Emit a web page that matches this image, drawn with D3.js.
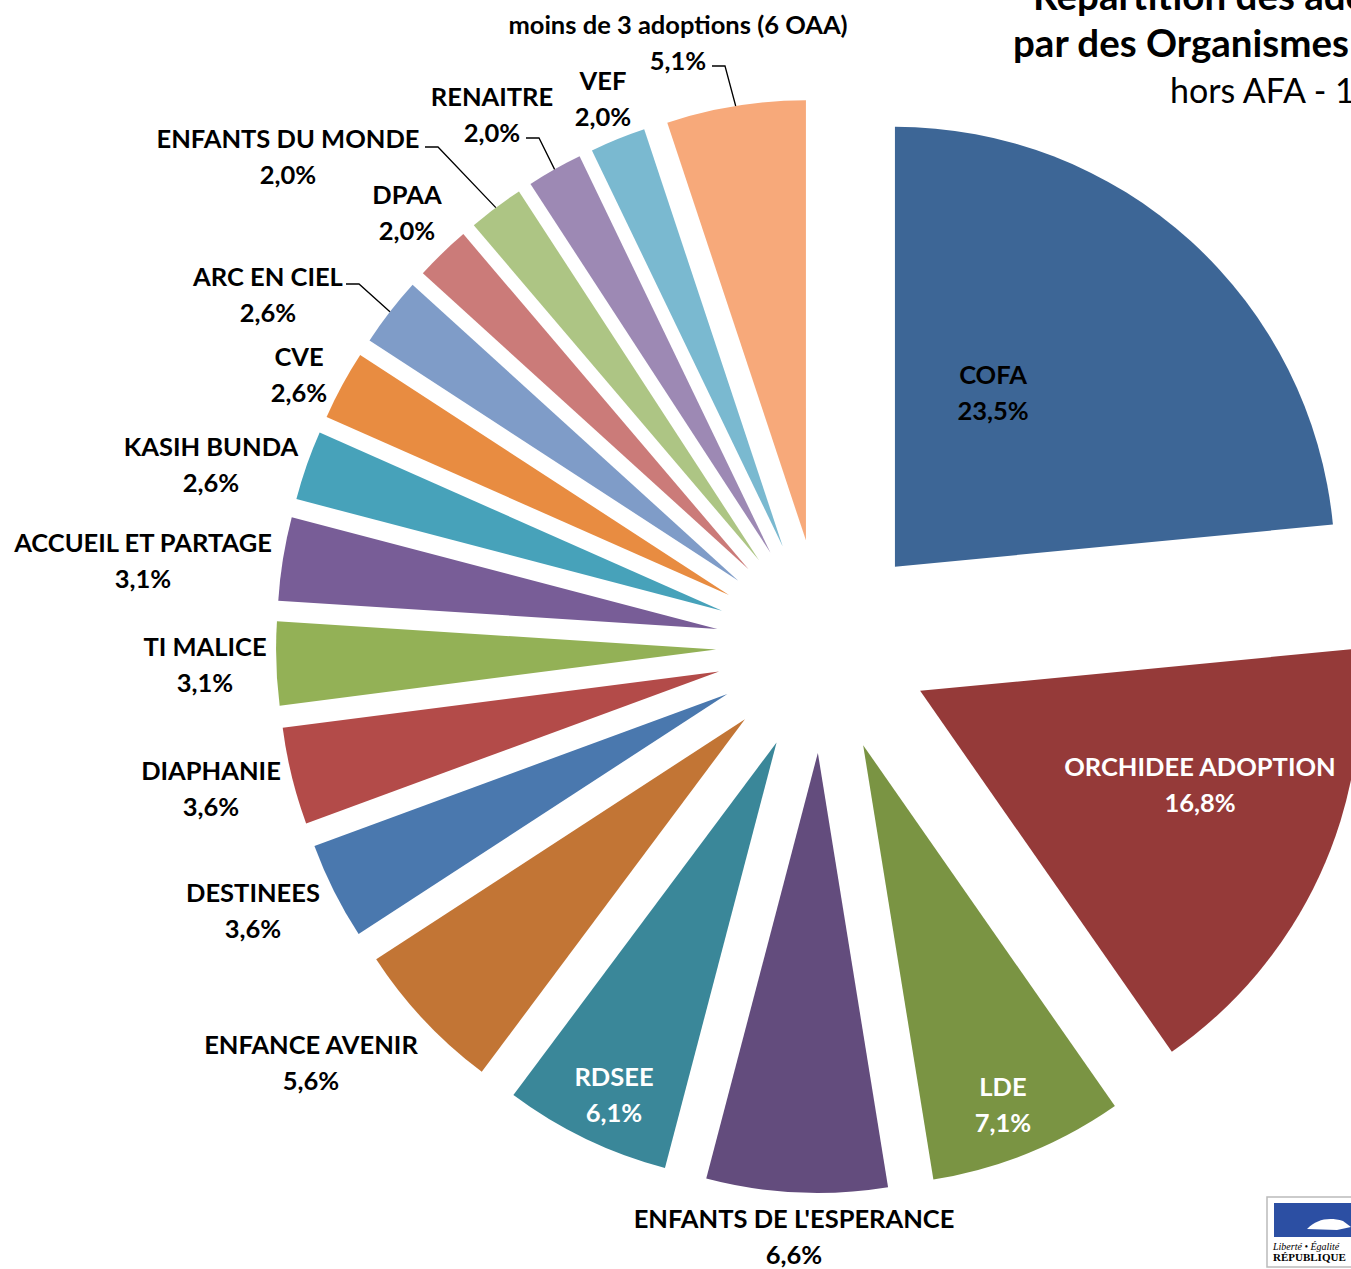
<!DOCTYPE html>
<html>
<head>
<meta charset="utf-8">
<script src="https://cdn.jsdelivr.net/npm/d3@7"></script>
<style>
  body { margin: 0; background: #fff; }
  svg { display: block; font-family: Lato, "Open Sans", sans-serif; }
  .lbl { font-weight: bold; font-size: 25.5px; }
</style>
</head>
<body>
<script>
// chart data: number of adoptions per organisme (hors AFA)
let organismes = [
    'COFA', 'ORCHIDEE ADOPTION', 'LDE', "ENFANTS DE L'ESPERANCE", 'RDSEE',
    'ENFANCE AVENIR', 'DESTINEES', 'DIAPHANIE', 'TI MALICE', 'ACCUEIL ET PARTAGE',
    'KASIH BUNDA', 'CVE', 'ARC EN CIEL', 'DPAA', 'ENFANTS DU MONDE',
    'RENAITRE', 'VEF', 'moins de 3 adoptions (6 OAA)'
]
let adoptions = [46, 33, 14, 13, 12, 11, 7, 7, 6, 6, 5, 5, 5, 4, 4, 4, 4, 10]

let colors = [
    '#3d6696', '#953a39', '#7a9443', '#634c7d', '#3a8799',
    '#c27535', '#4a78ae', '#b34b49', '#93b156', '#785d97',
    '#47a2ba', '#e88c41', '#7f9cc8', '#cb7b79', '#adc584',
    '#9d89b4', '#7ab9d0', '#f7a97a'
]

let titleLines = ['Répartition des adoptions réalisées',
                  'par des Organismes Autorisés pour l\'Adoption',
                  'hors AFA - 196 adoptions']

// LAYOUT
let width = 1351
let height = 1269
let cx = 823, cy = 646      // pie centre
let radius = 440
let explode = 107           // every slice pulled out by the same amount

// label centres (first line), white text for labels inside their slice
let labelXY = [
    [993, 375], [1200, 767], [1003, 1087], [794, 1219], [614, 1077],
    [311, 1045], [253, 893], [211, 771], [205, 647], [143, 543],
    [211, 447], [299, 357], [268, 277], [407, 195], [288, 139],
    [492, 97], [603, 81], [678, 25]
]
let insideLabels = ['ORCHIDEE ADOPTION', 'LDE', 'RDSEE']
let leaderLabels = ['moins de 3 adoptions (6 OAA)', 'RENAITRE', 'ENFANTS DU MONDE', 'ARC EN CIEL']

let total = d3.sum(adoptions)
let pct = v => (v / total * 100).toFixed(1).replace('.', ',') + '%'

let svg = d3.select('body').append('svg')
    .attr('width', width)
    .attr('height', height)

let pie = d3.pie().sort(null).value(d => d)
let arcs = pie(adoptions)

let arc = d3.arc().innerRadius(0).outerRadius(radius)

// offset of each slice along its mid angle
let shift = d => {
    let a = (d.startAngle + d.endAngle) / 2
    return [explode * Math.sin(a), -explode * Math.cos(a)]
}

let slices = svg.append('g').attr('transform', 'translate(' + cx + ',' + cy + ')')

slices.selectAll('path')
    .data(arcs)
    .enter()
    .append('path')
    .attr('d', arc)
    .attr('fill', (d, i) => colors[i])
    .attr('transform', d => 'translate(' + shift(d).join(',') + ')')

// leader lines: from the label to the middle of the slice outer edge
arcs.forEach((d, i) => {
    let name = organismes[i]
    if (leaderLabels.indexOf(name) < 0) return
    let a = (d.startAngle + d.endAngle) / 2
    let s = shift(d)
    let ex = cx + s[0] + radius * Math.sin(a)
    let ey = cy + s[1] - radius * Math.cos(a)
    // line starts right of the percentage line (or of the name for the wide ones)
    let lx, ly
    let [tx, ty] = labelXY[i]
    if (name == 'ENFANTS DU MONDE') {
        lx = tx + 137; ly = ty + 8
    } else if (name == 'ARC EN CIEL') {
        lx = tx + 78; ly = ty + 7
    } else {
        lx = tx + 34; ly = ty + 41
    }
    svg.append('path')
        .attr('d', 'M' + lx + ',' + ly + 'H' + (lx + 13) + 'L' + ex + ',' + ey)
        .attr('fill', 'none')
        .attr('stroke', '#000')
        .attr('stroke-width', 1.3)
})

// data labels
let labels = svg.selectAll('text.lbl')
    .data(arcs)
    .enter()
    .append('text')
    .attr('class', 'lbl')
    .attr('text-anchor', 'middle')
    .attr('fill', (d, i) => insideLabels.indexOf(organismes[i]) >= 0 ? '#fff' : '#000')

labels.append('tspan')
    .attr('x', (d, i) => labelXY[i][0])
    .attr('y', (d, i) => labelXY[i][1] + 9)
    .text((d, i) => organismes[i])

labels.append('tspan')
    .attr('x', (d, i) => labelXY[i][0])
    .attr('y', (d, i) => labelXY[i][1] + 45)
    .text(d => pct(d.value))

// title (runs past the right edge like the original)
svg.append('text')
    .attr('x', 1033).attr('y', 10)
    .attr('font-size', 38.5).attr('font-weight', 'bold')
    .text(titleLines[0])
svg.append('text')
    .attr('x', 1013).attr('y', 57)
    .attr('font-size', 38.5).attr('font-weight', 'bold')
    .text(titleLines[1])
svg.append('text')
    .attr('x', 1170).attr('y', 103)
    .attr('font-size', 34)
    .text(titleLines[2])

// Marianne logo, cut by the border
let logo = svg.append('g').attr('transform', 'translate(1267,1197)')
logo.append('rect')
    .attr('width', 100).attr('height', 70)
    .attr('fill', '#fff').attr('stroke', '#bbb').attr('stroke-width', 1.5)
logo.append('rect')
    .attr('x', 7).attr('y', 6).attr('width', 90).attr('height', 34)
    .attr('fill', '#2c4fa3')
logo.append('path')
    .attr('d', 'M40,32 C50,22 62,20 76,24 L84,30 L70,33 Z')
    .attr('fill', '#fff')
logo.append('text')
    .attr('x', 6).attr('y', 53)
    .attr('font-size', 10).attr('font-style', 'italic')
    .attr('font-family', 'Liberation Serif, serif')
    .text('Liberté • Égalité')
logo.append('text')
    .attr('x', 6).attr('y', 64)
    .attr('font-size', 11).attr('font-weight', 'bold')
    .attr('font-family', 'Liberation Serif, serif')
    .text('RÉPUBLIQUE')
</script>
</body>
</html>
